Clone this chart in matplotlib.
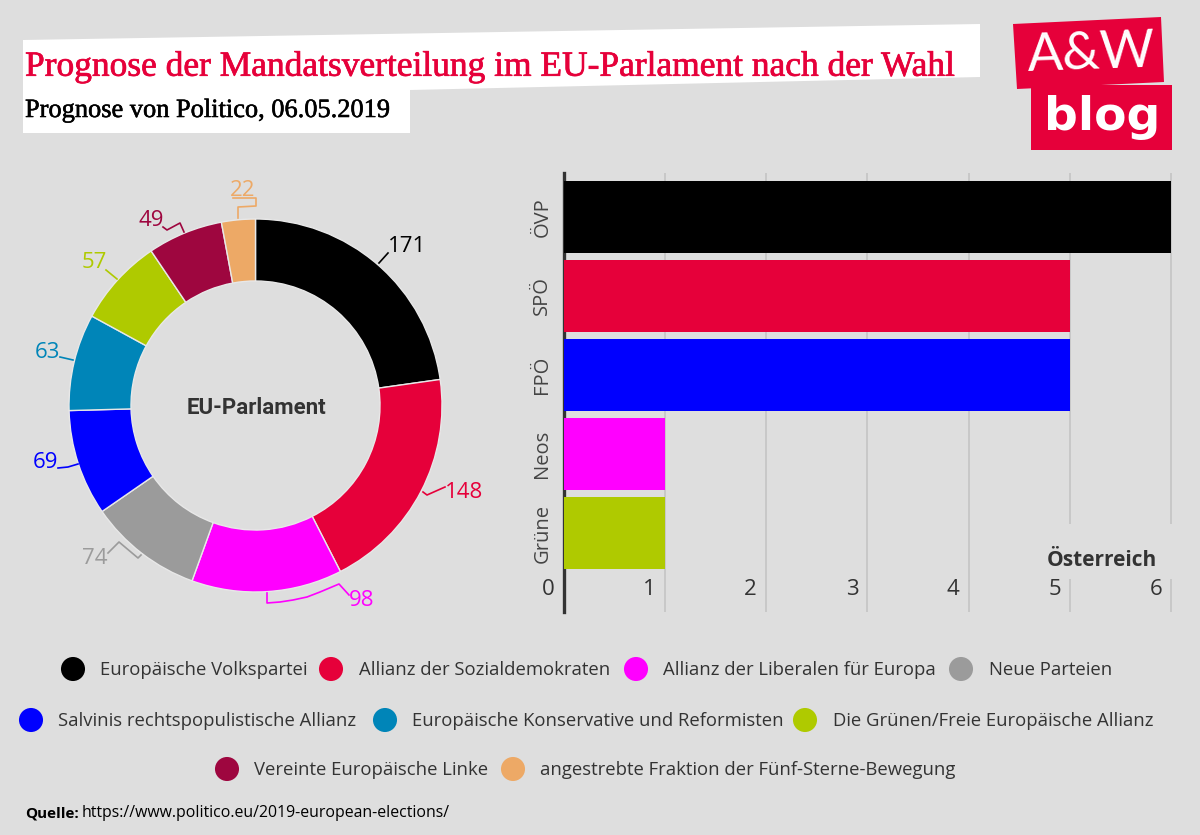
import matplotlib
matplotlib.use('Agg')
import matplotlib.pyplot as plt
import matplotlib.patheffects as pe
from matplotlib.patches import Polygon, Rectangle
from matplotlib.transforms import ScaledTranslation

BG = '#DEDEDE'
RED = '#E6003A'
W, H = 1200, 835

# seats in the EU parliament
groups = ['Europäische Volkspartei', 'Allianz der Sozialdemokraten', 'Allianz der Liberalen für Europa',
          'Neue Parteien', 'Salvinis rechtspopulistische Allianz', 'Europäische Konservative und Reformisten',
          'Die Grünen/Freie Europäische Allianz', 'Vereinte Europäische Linke',
          'angestrebte Fraktion der Fünf-Sterne-Bewegung']
seats = [171, 148, 98, 74, 69, 63, 57, 49, 22]
group_colors = ['#000000', RED, '#FF00FF', '#9B9B9B', '#0000FF', '#0085B8', '#AFCA00', '#9E063F', '#EDA966']

# seats Austria
parties = ['ÖVP', 'SPÖ', 'FPÖ', 'Neos', 'Grüne']
party_seats = [6, 5, 5, 1, 1]
party_colors = ['#000000', RED, '#0000FF', '#FF00FF', '#AFCA00']
x_ticks = [0, 1, 2, 3, 4, 5, 6]

plt.rcParams['font.family'] = ['Open Sans', 'DejaVu Sans']

fig = plt.figure(figsize=(W / 100, H / 100), dpi=100, facecolor=BG)

def px_axes(left, top, right, bottom):
    return fig.add_axes([left / W, 1 - bottom / H, (right - left) / W, (bottom - top) / H])

# donut
ax_pie = px_axes(69, 219, 442, 592)
ax_pie.pie(seats, colors=group_colors, startangle=90, counterclock=False, radius=1,
           wedgeprops={'width': 62 / 186.5, 'edgecolor': '#E8E8E8', 'linewidth': 1})
ax_pie.set_xlim(-1, 1)
ax_pie.set_ylim(-1, 1)

# bars
ax_bar = px_axes(563.5, 173, 1172, 612)
ax_bar.set_facecolor('none')
ax_bar.barh(range(len(parties)), party_seats, height=0.9, color=party_colors, zorder=3)
ax_bar.set_xlim(0, 6.007)
ax_bar.set_ylim(5.0, -0.557)
ax_bar.set_yticks(range(len(parties)))
ax_bar.set_yticklabels(parties, rotation=90, va='center', fontsize=14.5, color='#444444')
ax_bar.set_xticks(x_ticks)
ax_bar.set_xticklabels([str(t) for t in x_ticks], ha='right', fontsize=16, color='#333333')
ax_bar.tick_params(axis='x', length=0, pad=-24)
ax_bar.tick_params(axis='y', length=0, pad=8)
for lab in ax_bar.get_xticklabels():
    lab.set_transform(lab.get_transform() + ScaledTranslation(-0.09, 0, fig.dpi_scale_trans))
ax_bar.grid(axis='x', color='#C2C2C2', linewidth=1.1, zorder=1)
ax_bar.set_axisbelow(True)
for s in ['top', 'right', 'bottom']:
    ax_bar.spines[s].set_visible(False)
ax_bar.spines['left'].set_color('#333333')
ax_bar.spines['left'].set_linewidth(2.4)

# overlay in pixel coordinates for the decoration
ov = fig.add_axes([0, 0, 1, 1], zorder=5)
ov.set_xlim(0, W)
ov.set_ylim(H, 0)
ov.axis('off')
ov.patch.set_alpha(0)

# title band
ov.add_patch(Polygon([(23, 40), (980, 24), (980, 77), (410, 90), (410, 133), (23, 133)], fc='white', ec='none'))
title = ov.text(25, 67, 'Prognose der Mandatsverteilung im EU-Parlament nach der Wahl', family='Liberation Serif',
                fontsize=25.5, color=RED, va='center')
title.set_path_effects([pe.withStroke(linewidth=0.5, foreground=RED)])
sub = ov.text(25, 111, 'Prognose von Politico, 06.05.2019', family='Liberation Serif', fontsize=19,
              color='black', va='center')
sub.set_path_effects([pe.withStroke(linewidth=0.4, foreground='black')])

# logo
ov.add_patch(Polygon([(1013, 24), (1161, 17), (1164, 82), (1017, 89)], fc=RED, ec='none'))
ov.add_patch(Rectangle((1031, 85), 141, 65, fc=RED, ec='none'))
ov.text(1091, 54, 'A&W', family='Lato', fontsize=38, color='white', ha='center', va='center', rotation=2)
ov.text(1102, 117, 'blog', family='DejaVu Sans', fontweight='bold', fontsize=34, color='white',
        ha='center', va='center')

# labels in the charts
ov.text(256, 408, 'EU-Parlament', family='Roboto', fontweight='bold', fontsize=16, color='#333333',
        ha='center', va='center')
ov.add_patch(Rectangle((1030, 524), 150, 55, fc=BG, ec='none'))
ov.text(1102, 561, 'Österreich', fontweight='bold', fontsize=15, color='#333333', ha='center', va='center')

# leader lines and values of the donut
leader_lines = [
    [(379, 263), (388, 253)],
    [(423, 492), (427, 495), (445, 487)],
    [(267, 593), (267, 603), (280, 602), (293, 600), (307, 597), (320, 592), (339, 584), (349, 595)],
    [(141, 555), (138, 558), (119, 542), (108, 553)],
    [(78, 464), (68, 467), (58, 468)],
    [(60, 357), (73, 360)],
    [(117, 279), (106, 270)],
    [(184, 232), (180, 223), (167, 230), (163, 227)],
    [(238, 218), (238, 207), (256, 206), (256, 198), (233, 198)],
]
value_pos = [(407, 247), (464, 492), (362, 600), (95, 558), (45, 462), (47, 352), (94, 263), (151, 220), (243, 191)]
for i in range(len(seats)):
    xs = [p[0] for p in leader_lines[i]]
    ys = [p[1] for p in leader_lines[i]]
    ov.plot(xs, ys, color=group_colors[i], linewidth=1.2)
    ov.text(value_pos[i][0], value_pos[i][1], str(seats[i]), color=group_colors[i], fontsize=16,
            ha='center', va='center')

# legend
dot_x = [73, 331, 636, 961, 31, 385, 805, 227, 513]
text_x = [100, 359, 663, 989, 58, 412, 833, 254, 540]
row_y = [669, 669, 669, 669, 720, 720, 720, 769, 769]
ov.scatter(dot_x, row_y, s=300, c=group_colors, linewidths=0)
for i in range(len(groups)):
    ov.text(text_x[i], row_y[i] + 1, groups[i], fontsize=13.3, color='#333333', va='center')

# source
ov.text(25, 813, 'Quelle:', fontweight='bold', fontsize=11, color='black', va='center')
ov.text(82, 813, 'https://www.politico.eu/2019-european-elections/', fontsize=11.4, color='black', va='center')

fig.savefig('out.png', dpi=100, facecolor=BG)
